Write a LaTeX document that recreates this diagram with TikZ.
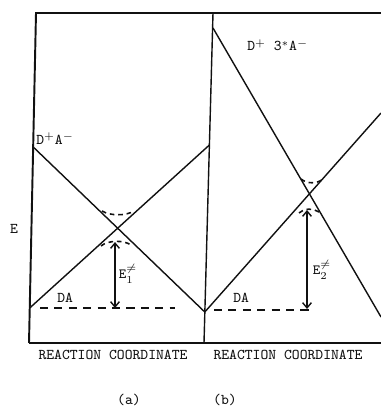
\documentclass[tikz,border=0pt]{standalone}
\usepackage{tikz}
\usetikzlibrary{arrows.meta,positioning,calc}
\definecolor{Tinta}{HTML}{111111}

\begin{document}
\begin{tikzpicture}[x=0.02cm,y=-0.02cm,
    marco/.style={draw=Tinta,line width=1.1pt},
    curva/.style={draw=Tinta,line width=0.8pt},
    umbral/.style={draw=Tinta,line width=0.9pt,dash pattern=on 2.6pt off 2.2pt},
    nivel/.style={draw=Tinta,line width=1.1pt,dash pattern=on 4.6pt off 3.6pt},
    barrera/.style={draw=Tinta,line width=0.8pt,{Straight Barb[length=3pt,width=5pt]}-{Straight Barb[length=3pt,width=5pt]}},
    etiqueta/.style={inner sep=0pt,text=Tinta,font=\fontsize{8.5}{10}\selectfont\ttfamily}]
        \useasboundingbox (0,0) rectangle (381,412);
        % ejes y division
        \coordinate (esqA) at (36,13);
        \coordinate (pieA) at (29,343);
        \coordinate (esqB) at (213,13);
        \coordinate (pieB) at (204,343);
        \draw[marco] (pieA) -- (esqA) -- (381,13);
        \draw[marco] (pieA) -- (381,343);
        \draw[curva] (esqB) -- (pieB);
        % curvas (a)
        \coordinate (ionA) at (33.2,147);
        \coordinate (neuA) at (29.7,308);
        \coordinate (finA) at (209.4,145);
        \coordinate (minB) at (204.8,312);
        \draw[curva] (ionA) -- (minB);
        \draw[curva] (neuA) -- (finA);
        \draw[umbral] (102,211) .. controls (110,216) and (126,216) .. (134,211);
        \draw[umbral] (101,246) .. controls (108,240) and (124,240) .. (131,245);
        \draw[nivel] (40,308) -- (175,308);
        \coordinate (topA) at (115,242);
        \coordinate (botA) at (115,308);
        \draw[barrera] (topA) -- (botA);
        % curvas (b)
        \coordinate (ionB) at (213,28);
        \coordinate (finB1) at (381,317);
        \coordinate (finB2) at (381,113);
        \draw[curva] (ionB) -- (finB1);
        \draw[curva] (minB) -- (finB2);
        \draw[umbral] (301,179) .. controls (307,184) and (317,184) .. (323,179);
        \draw[umbral] (299,213) .. controls (304,208) and (313,208) .. (319,212);
        \draw[nivel] (214,310) -- (310,310);
        \coordinate (topB) at (307,210);
        \coordinate (botB) at (307,309);
        \draw[barrera] (topB) -- (botB);
        % textos
        \node[etiqueta,anchor=base west] (ionAtxt) at (36,144) {D$^{+}$A$^{-}$};
        \node[etiqueta,anchor=base west] (ionBtxt) at (247,51) {D$^{+}$ 3$^{*}$A$^{-}$};
        \node[etiqueta,anchor=base west] (daA) at (57,302) {DA};
        \node[etiqueta,anchor=base west] (daB) at (233,302) {DA};
        \node[etiqueta] (eje) at (14,229) {E};
        \node[etiqueta] (ea1) at (128,274) {$\mathtt{E}^{\neq}_{1}$};
        \node[etiqueta] (ea2) at (322,270) {$\mathtt{E}^{\neq}_{2}$};
        \node[etiqueta] (coordA) at (113,355) {REACTION COORDINATE};
        \node[etiqueta] (coordB) at (288,355) {REACTION COORDINATE};
        \node[etiqueta] (panA) at (129,400) {(a)};
        \node[etiqueta] (panB) at (225,400) {(b)};
      \end{tikzpicture}
\end{document}
